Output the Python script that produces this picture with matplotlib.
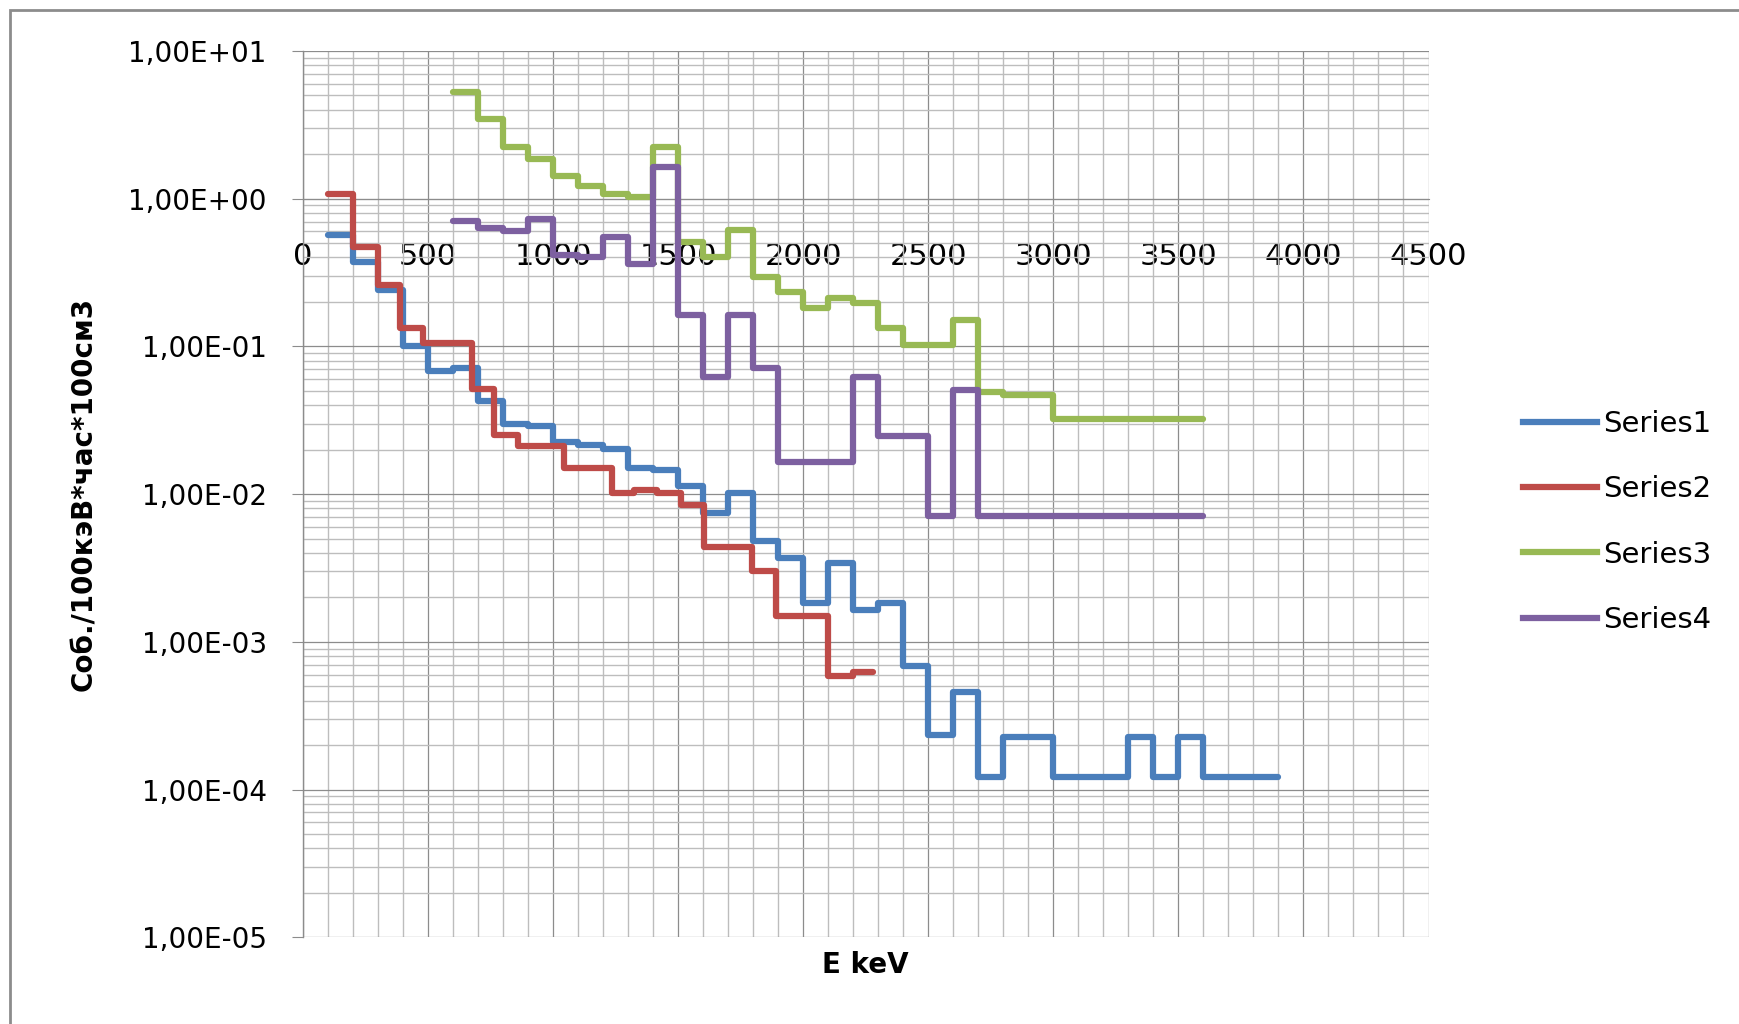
import numpy as np
import matplotlib
matplotlib.use('Agg')
import matplotlib.pyplot as plt
from matplotlib.ticker import FuncFormatter, MultipleLocator, LogLocator
from matplotlib.patches import Rectangle

# bin edges (keV) and rates for each series
edges1 = [100, 200, 300, 400, 500, 600, 700, 800, 900, 1000, 1100, 1200, 1300,
          1400, 1500, 1600, 1700, 1800, 1900, 2000, 2100, 2200, 2300, 2400, 2500,
          2600, 2700, 2800, 2900, 3000, 3100, 3200, 3300, 3400, 3500, 3600, 3700,
          3800, 3900]
series1 = [0.57, 0.375, 0.24, 0.10, 0.068, 0.071, 0.043, 0.030, 0.029, 0.0226,
           0.0215, 0.0202, 0.0151, 0.0146, 0.0113, 0.0075, 0.0101, 0.0048, 0.0037,
           0.00184, 0.0034, 0.00164, 0.00182, 0.00069, 0.000234, 0.00046, 0.000121,
           0.000228, 0.000228, 0.000121, 0.000121, 0.000121, 0.000228, 0.000121,
           0.000228, 0.000121, 0.000121, 0.000121]

edges2 = [100, 200, 300, 390, 480, 675, 765, 860, 1045, 1235, 1325, 1415, 1510,
          1605, 1795, 1890, 2100, 2200, 2280]
series2 = [1.07, 0.473, 0.26, 0.134, 0.106, 0.0512, 0.0251, 0.0211, 0.0151, 0.0102,
           0.0107, 0.0101, 0.0085, 0.0044, 0.00303, 0.00149, 0.00059, 0.00062]

edges34 = [600, 700, 800, 900, 1000, 1100, 1200, 1300, 1400, 1500, 1600, 1700,
           1800, 1900, 2000, 2100, 2200, 2300, 2400, 2500, 2600, 2700, 2800, 2900,
           3000, 3100, 3200, 3300, 3400, 3500, 3600]
series3 = [5.25, 3.45, 2.23, 1.85, 1.43, 1.21, 1.07, 1.03, 2.23, 0.51, 0.405, 0.614,
           0.296, 0.235, 0.181, 0.214, 0.196, 0.134, 0.103, 0.103, 0.151, 0.049,
           0.047, 0.047, 0.032, 0.032, 0.032, 0.032, 0.032, 0.032]
series4 = [0.706, 0.63, 0.607, 0.729, 0.416, 0.405, 0.553, 0.361, 1.63, 0.163, 0.0624,
           0.163, 0.0711, 0.0166, 0.0166, 0.0166, 0.0624, 0.0247, 0.0247, 0.00713,
           0.0507, 0.0071, 0.0071, 0.0071, 0.0071, 0.0071, 0.0071, 0.0071, 0.0071,
           0.0071]

labels = ['Series1', 'Series2', 'Series3', 'Series4']
colors = ['#4A7EBB', '#BE4B48', '#98B954', '#7D60A0']

W, H = 1739, 1024
fig = plt.figure(figsize=(W / 100, H / 100), dpi=100)
ax = fig.add_axes([302.8 / W, 1 - 937.2 / H, 1125.7 / W, 886.2 / H])

data = [(edges1, series1), (edges2, series2), (edges34, series3), (edges34, series4)]
for (e, v), c, lab in zip(data, colors, labels):
    ax.stairs(v, e, baseline=None, color=c, lw=4.5, label=lab, zorder=3,
              joinstyle='round', capstyle='round')

ax.set_yscale('log')
ax.set_ylim(1e-5, 1e1)
ax.set_xlim(0, 4500)

ax.xaxis.set_major_locator(MultipleLocator(500))
ax.xaxis.set_minor_locator(MultipleLocator(100))
ax.yaxis.set_major_locator(LogLocator(base=10, numticks=10))
ax.yaxis.set_minor_locator(LogLocator(base=10, subs=np.arange(2, 10), numticks=10))


def sci_comma(v, pos):
    e = int(round(np.log10(v)))
    return '1,00E' + ('+' if e >= 0 else '-') + '%02d' % abs(e)


ax.yaxis.set_major_formatter(FuncFormatter(sci_comma))

ax.grid(True, which='major', color='#8C8C8C', lw=0.9, zorder=1)
ax.grid(True, which='minor', color='#BDBDBD', lw=1.0, zorder=1)

# horizontal axis crosses at 1
ax.spines['bottom'].set_position(('data', 1))
ax.spines['bottom'].set_color('#8C8C8C')
ax.spines['top'].set_visible(False)
ax.spines['right'].set_visible(False)
ax.spines['left'].set_color('#8C8C8C')
ax.spines['left'].set_linewidth(1.0)

ax.tick_params(axis='x', which='both', length=0, pad=31, labelsize=22)
ax.tick_params(axis='y', which='major', length=8, width=0.8, color='#8C8C8C',
               pad=18, labelsize=20, colors='#8C8C8C', labelcolor='black')
ax.tick_params(axis='y', which='minor', length=0)

ax.set_ylabel('Соб./100кэВ*час*100см3', fontsize=20, fontweight='bold')
ax.yaxis.set_label_coords(-0.182, 0.5)
ax.set_xlabel('E keV', fontsize=20, fontweight='bold', va='center')
ax.xaxis.set_label_coords(0.5, -0.031)

ax.legend(loc='center left', bbox_to_anchor=(1523 / W, 1 - 522 / H),
          bbox_transform=fig.transFigure, frameon=False, fontsize=21,
          handlelength=2.55, handletextpad=0.2, labelspacing=1.28,
          borderpad=0, borderaxespad=0)

# chart area border
fig.add_artist(Rectangle((10 / W, -0.1), 1.2, 1 - 10 / H + 0.1,
                         transform=fig.transFigure, fill=False,
                         edgecolor='#8C8C8C', lw=2.0))

fig.savefig('out.png', dpi=100)
